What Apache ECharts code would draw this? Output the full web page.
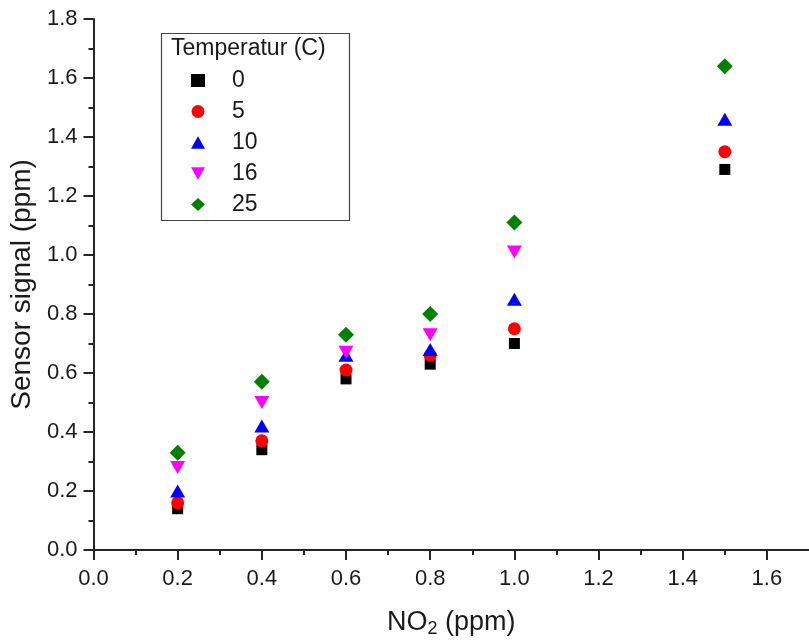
<!DOCTYPE html>
<html>
<head>
<meta charset="utf-8">
<script src="https://cdn.jsdelivr.net/npm/echarts@6/dist/echarts.min.js"></script>
<style>html,body{margin:0;padding:0;background:#fff}#c{width:809px;height:643px}</style>
</head>
<body>
<div id="c"></div>
<script>
const no2 = [0.2, 0.4, 0.6, 0.8, 1.0, 1.5];
const t0  = [0.14, 0.34, 0.58, 0.63, 0.70, 1.29];
const t5  = [0.16, 0.37, 0.61, 0.66, 0.75, 1.35];
const t10 = [0.20, 0.42, 0.66, 0.68, 0.85, 1.46];
const t16 = [0.28, 0.50, 0.67, 0.73, 1.01, null];
const t25 = [0.33, 0.57, 0.73, 0.80, 1.11, 1.64];
const seriesNames = ['0', '5', '10', '16', '25'];
const xMajor = [0, 0.2, 0.4, 0.6, 0.8, 1.0, 1.2, 1.4, 1.6];
const xMinor = [0.1, 0.3, 0.5, 0.7, 0.9, 1.1, 1.3, 1.5];

const FONT = 'Liberation Sans, Arial, sans-serif';
const AX = '#262626';

function pts(ys) {
  const out = [];
  ys.forEach((y, i) => { if (y !== null) out.push([no2[i], y]); });
  return out;
}
const styles = [
  { symbol: 'rect', size: 11, color: '#000000' },
  { symbol: 'circle', size: 13, color: '#ff0000' },
  { symbol: 'path://M5,0L10,9L0,9Z', size: [15, 13], color: '#0000ff' },
  { symbol: 'path://M0,0L10,0L5,9Z', size: [15, 13], color: '#ff00ff' },
  { symbol: 'diamond', size: 16, color: '#008000' }
];
const allData = [t0, t5, t10, t16, t25];

const chart = echarts.init(document.getElementById('c'));
chart.setOption({
  animation: false,
  backgroundColor: '#ffffff',
  grid: { left: 92, right: -1, top: 19, bottom: 92, containLabel: false },
  xAxis: [{
    type: 'value', min: 0, max: 1.7, position: 'bottom',
    axisLine: { show: true, onZero: false, lineStyle: { color: AX, width: 2 } },
    axisTick: { show: true, inside: false, length: 10, customValues: xMajor, lineStyle: { color: AX, width: 2 } },
    minorTick: { show: false },
    splitLine: { show: false },
    axisLabel: { customValues: xMajor, margin: 18, fontFamily: FONT, fontSize: 22, color: '#1a1a1a',
      formatter: v => v.toFixed(1) },
    name: '{a|NO}{s|2}{a| (ppm)}', nameLocation: 'middle', nameGap: 58,
    nameTextStyle: { rich: {
      a: { fontFamily: FONT, fontSize: 27, color: '#1a1a1a' },
      s: { fontFamily: FONT, fontSize: 18, color: '#1a1a1a', verticalAlign: 'bottom', padding: [12, 0, 0, 0] }
    } }
  }, {
    type: 'value', min: 0, max: 1.7, position: 'bottom',
    axisLine: { show: false },
    axisTick: { show: true, inside: false, length: 5, customValues: xMinor, lineStyle: { color: AX, width: 2 } },
    axisLabel: { show: false },
    splitLine: { show: false }
  }],
  yAxis: {
    type: 'value', min: 0, max: 1.8, interval: 0.2,
    axisLine: { show: true, onZero: false, lineStyle: { color: AX, width: 2 } },
    axisTick: { show: true, inside: false, length: 10, lineStyle: { color: AX, width: 2 } },
    minorTick: { show: true, splitNumber: 2, length: 5, lineStyle: { color: AX, width: 2 } },
    splitLine: { show: false },
    axisLabel: { margin: 16, fontFamily: FONT, fontSize: 22, color: '#1a1a1a', formatter: v => v.toFixed(1) },
    name: 'Sensor signal (ppm)', nameLocation: 'middle', nameGap: 52,
    nameTextStyle: { fontFamily: FONT, fontSize: 28, color: '#1a1a1a' }
  },
  legend: {
    orient: 'vertical', left: 191, top: 69, padding: 0,
    itemWidth: 14, itemHeight: 13, itemGap: 8,
    data: seriesNames,
    textStyle: { fontFamily: FONT, fontSize: 23, color: '#1a1a1a', lineHeight: 23, padding: [0, 0, 0, 22] }
  },
  graphic: [
    { type: 'rect', left: 159, top: 31, shape: { width: 188, height: 187 },
      style: { fill: 'none', stroke: '#444', lineWidth: 1.2 }, z: 10 },
    { type: 'text', left: 171, top: 37,
      style: { text: 'Temperatur (C)', fontFamily: FONT, fontSize: 23, fill: '#1a1a1a' }, z: 10 }
  ],
  series: seriesNames.map((n, i) => ({
    name: n, type: 'scatter',
    symbol: styles[i].symbol, symbolSize: styles[i].size,
    itemStyle: { color: styles[i].color, opacity: 1 },
    data: pts(allData[i]), z: 5
  }))
});
</script>
</body>
</html>
